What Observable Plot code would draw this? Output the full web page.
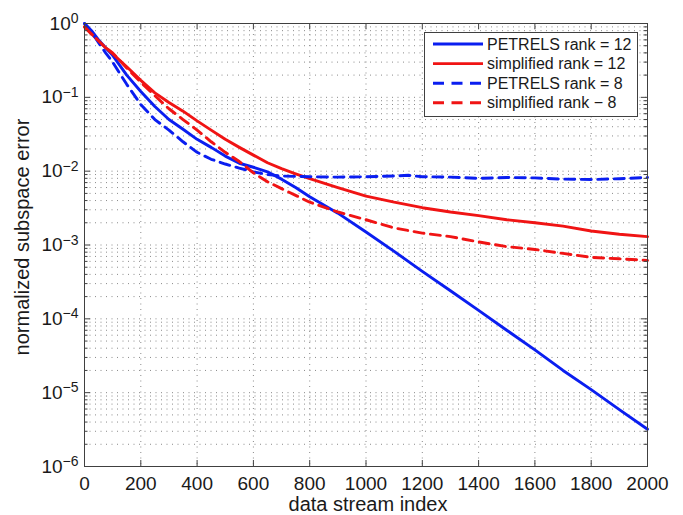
<!DOCTYPE html>
<html>
<head>
<meta charset="utf-8">
<script src="https://cdn.jsdelivr.net/npm/d3@7"></script>
<script src="https://cdn.jsdelivr.net/npm/@observablehq/plot@0.6"></script>
<style>
  html, body { margin: 0; padding: 0; background: #fff; }
  #chart { width: 683px; height: 515px; }
</style>
</head>
<body>
<div id="chart"></div>
<script>
// ---- data ----
const streamIndex = [0, 25, 50, 75, 100, 150, 200, 250, 300, 350, 400, 450, 500, 550, 600, 650, 700, 750, 800, 900, 1000, 1100, 1150, 1200, 1300, 1400, 1500, 1600, 1700, 1800, 1900, 2000];
const petrels12 = [1.0, 0.8, 0.6, 0.47, 0.37, 0.2, 0.12, 0.075, 0.05, 0.037, 0.027, 0.021, 0.016, 0.0128, 0.0113, 0.0098, 0.0078, 0.006, 0.0045, 0.0027, 0.0015, 0.00082, 0.0006, 0.00044, 0.00024, 0.00013, 0.00007, 0.000038, 0.00002, 0.000011, 0.0000059, 0.0000032];
const simplified12 = [0.9, 0.72, 0.58, 0.47, 0.39, 0.26, 0.17, 0.115, 0.085, 0.065, 0.048, 0.036, 0.027, 0.021, 0.0165, 0.013, 0.0108, 0.0092, 0.0079, 0.006, 0.0046, 0.0038, 0.0035, 0.0032, 0.0028, 0.0025, 0.0022, 0.002, 0.0018, 0.00155, 0.0014, 0.0013];
const petrels8 = [1.0, 0.78, 0.55, 0.4, 0.3, 0.15, 0.08, 0.05, 0.036, 0.025, 0.018, 0.0145, 0.0125, 0.011, 0.0098, 0.009, 0.0086, 0.0085, 0.0084, 0.0083, 0.0084, 0.0086, 0.0088, 0.0084, 0.0083, 0.008, 0.0082, 0.0081, 0.0078, 0.0077, 0.0079, 0.0082];
const simplified8 = [0.9, 0.72, 0.58, 0.47, 0.4, 0.25, 0.16, 0.105, 0.07, 0.05, 0.036, 0.025, 0.018, 0.0135, 0.0095, 0.0072, 0.0058, 0.0047, 0.0038, 0.0028, 0.0022, 0.0017, 0.00157, 0.00145, 0.0013, 0.0011, 0.00095, 0.00087, 0.00077, 0.00068, 0.00065, 0.00062];

const seriesNames = ["PETRELS rank = 12", "simplified rank = 12", "PETRELS rank = 8", "simplified rank \u2212 8"];
const seriesValues = [petrels12, simplified12, petrels8, simplified8];
const seriesColors = ["#0a1ef0", "#f01414", "#0a1ef0", "#f01414"];
const seriesDashed = [false, false, true, true];

const xTicks = [0, 200, 400, 600, 800, 1000, 1200, 1400, 1600, 1800, 2000];
const yTicks = [1e-6, 1e-5, 1e-4, 1e-3, 1e-2, 1e-1, 1];
const yMinorTicks = yTicks.slice(0, -1).flatMap(d => [2, 3, 4, 5, 6, 7, 8, 9].map(m => m * d));

const xLabel = "data stream index";
const yLabel = "normalized subspace error";

// ---- layout ----
const W = 683, H = 515, ML = 84, MR = 36, MT = 23, MB = 49;
const iw = W - ML - MR, ih = H - MT - MB;
const frameColor = "#404040";
const gridStyle = {stroke: "#8a8a8a", strokeDasharray: "1,4.5", strokeWidth: 1};

const rows = seriesNames.map((name, i) =>
  streamIndex.map((x, j) => ({x, y: seriesValues[i][j], series: name})));

const lineMarks = rows.map((data, i) => Plot.line(data, {
  x: "x", y: "y",
  stroke: seriesColors[i],
  strokeWidth: 2.9,
  strokeLinejoin: "round",
  strokeDasharray: seriesDashed[i] ? "10,6.5" : null
}));

const chart = Plot.plot({
  width: W, height: H,
  marginLeft: ML, marginRight: MR, marginTop: MT, marginBottom: MB,
  style: {fontFamily: "'Liberation Sans', Arial, Helvetica, sans-serif", background: "white", color: "#1a1a1a"},
  x: {domain: [0, 2000]},
  y: {type: "log", domain: [1e-6, 1]},
  marks: [
    Plot.ruleY(yMinorTicks.concat(yTicks.slice(1, -1)), {y: d => d, ...gridStyle}),
    Plot.ruleX(xTicks.slice(1, -1), {x: d => d, ...gridStyle}),
    ...lineMarks,
    // inward ticks on all four sides
    Plot.tickY(yTicks, {y: d => d, insetRight: iw - 6, stroke: frameColor}),
    Plot.tickY(yTicks, {y: d => d, insetLeft: iw - 6, stroke: frameColor}),
    Plot.tickY(yMinorTicks, {y: d => d, insetRight: iw - 3.5, stroke: frameColor}),
    Plot.tickY(yMinorTicks, {y: d => d, insetLeft: iw - 3.5, stroke: frameColor}),
    Plot.tickX(xTicks, {x: d => d, insetTop: ih - 6, stroke: frameColor}),
    Plot.tickX(xTicks, {x: d => d, insetBottom: ih - 6, stroke: frameColor}),
    Plot.frame({stroke: frameColor}),
    Plot.axisX(xTicks, {anchor: "bottom", tickSize: 0, tickPadding: 10, fontSize: 19, label: null, tickFormat: d => String(d)}),
    Plot.axisY(yTicks, {anchor: "left", tickSize: 0, tickPadding: 6, fontSize: 19, label: null,
      tickFormat: d => String(Math.round(Math.log10(d)))}),
    Plot.text([xLabel], {frameAnchor: "bottom", lineAnchor: "middle", textAnchor: "middle", dy: 38, dx: 2, fontSize: 20, text: d => d}),
    Plot.text([yLabel], {frameAnchor: "left", lineAnchor: "middle", textAnchor: "middle", rotate: -90, dx: -62, dy: -8, fontSize: 20, text: d => d})
  ]
});

// superscript exponents on the y tick labels
d3.select(chart).selectAll('g[aria-label="y-axis tick label"] text').each(function() {
  const t = d3.select(this);
  const e = t.text().replace("-", "\u2212");
  t.text(null);
  t.append("tspan").text("10");
  t.append("tspan").attr("dy", "-6.5").attr("font-size", 14).text(e);
});

// legend box inside the plot (upper right)
const svg = d3.select(chart);
const lg = svg.append("g").attr("font-family", "'Liberation Sans', Arial, sans-serif").attr("font-size", 16).attr("text-anchor", "start");
lg.append("rect").attr("x", 424.5).attr("y", 32.5).attr("width", 213).attr("height", 84)
  .attr("fill", "white").attr("stroke", frameColor).attr("stroke-width", 1);
seriesNames.forEach((name, i) => {
  const yy = 44 + i * 19.6;
  lg.append("line").attr("x1", 433).attr("x2", 483).attr("y1", yy).attr("y2", yy)
    .attr("stroke", seriesColors[i]).attr("stroke-width", 2.9)
    .attr("stroke-dasharray", seriesDashed[i] ? "11,7.5" : null);
  lg.append("text").attr("x", 487).attr("y", yy).attr("dy", "0.35em").attr("text-anchor", "start").attr("fill", "#1a1a1a").text(name);
});

document.getElementById("chart").appendChild(chart);
</script>
</body>
</html>
